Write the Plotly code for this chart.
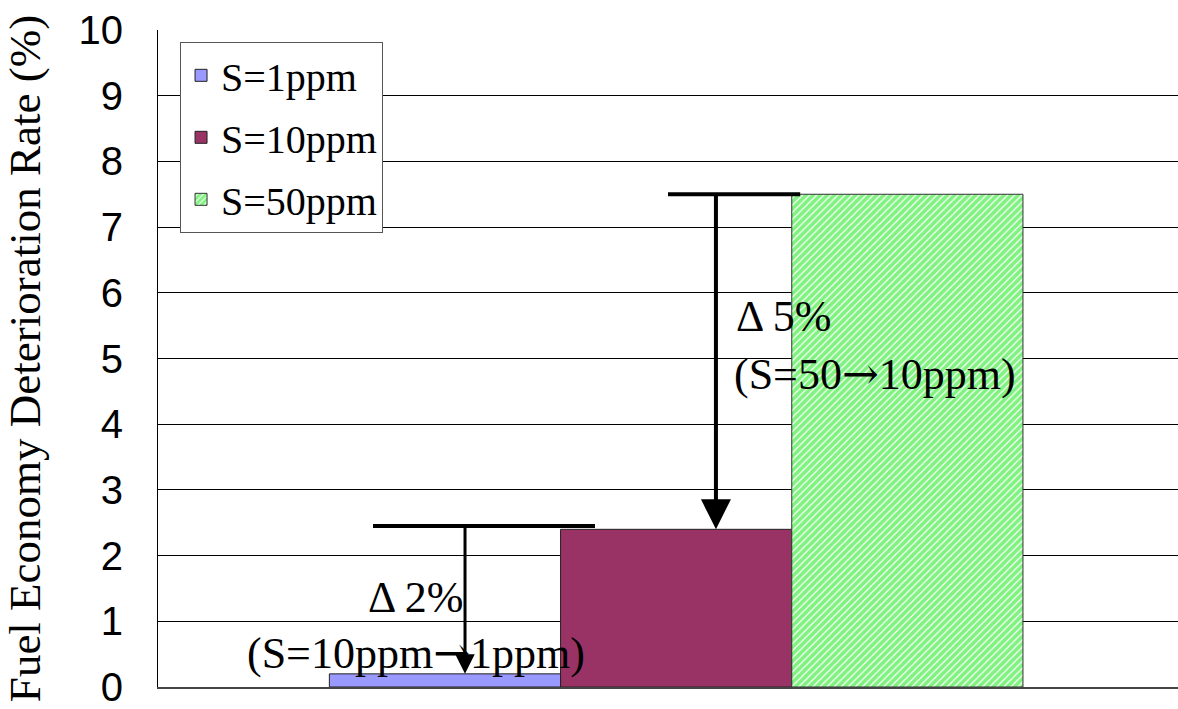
import plotly.graph_objects as go

# ---- data ----
categories = ["Fuel economy"]
series_names = ["S=1ppm", "S=10ppm", "S=50ppm"]
series_values = [0.2, 2.4, 7.5]
y_ticks = [0, 1, 2, 3, 4, 5, 6, 7, 8, 9, 10]

# annotation data (reductions)
ARROW = "<span style=\"font-family:'DejaVu Serif'\">→</span>"
delta_big = {"label": "Δ 5%", "sub": "(S=50" + ARROW + "10ppm)", "from": 7.5, "to": 2.4}
delta_small = {"label": "Δ 2%", "sub": "(S=10ppm" + ARROW + "1ppm)", "from": 2.45, "to": 0.2}

SERIF = "Liberation Serif"
SANS = "Liberation Sans"

fig = go.Figure()
fig.add_trace(go.Bar(
    x=categories, y=[series_values[0]], name=series_names[0], legendgroup="a",
    marker=dict(color="#9999ff", line=dict(color="#222", width=1)),
))
fig.add_trace(go.Bar(
    x=categories, y=[series_values[1]], name=series_names[1], legendgroup="b",
    marker=dict(color="#993366", line=dict(color="#222", width=1)),
))
fig.add_trace(go.Bar(
    x=categories, y=[series_values[2]], name=series_names[2], legendgroup="c",
    marker=dict(color="white", line=dict(color="#333", width=1),
                pattern=dict(shape="/", fgcolor="#00e600", bgcolor="white",
                             size=5, solidity=0.75, fillmode="overlay")),
))

# T-bar horizontal lines
fig.add_shape(type="line", xref="x", yref="y", x0=-0.008, x1=0.1216,
              y0=delta_big["from"], y1=delta_big["from"], line=dict(color="black", width=4))
fig.add_shape(type="line", xref="x", yref="y", x0=-0.2972, x1=-0.0796,
              y0=delta_small["from"], y1=delta_small["from"], line=dict(color="black", width=4))

# arrows
fig.add_annotation(x=0.039, y=delta_big["to"], ax=0.039, ay=delta_big["from"],
                   xref="x", yref="y", axref="x", ayref="y", text="",
                   showarrow=True, arrowhead=2, arrowwidth=4, arrowsize=1.5,
                   arrowcolor="black", standoff=0)
fig.add_annotation(x=-0.207, y=delta_small["to"], ax=-0.207, ay=delta_small["from"],
                   xref="x", yref="y", axref="x", ayref="y", text="",
                   showarrow=True, arrowhead=2, arrowwidth=3, arrowsize=1.3,
                   arrowcolor="black", standoff=0)

# texts
fig.add_annotation(x=0.057, y=5.64, xref="x", yref="y", text=delta_big["label"],
                   showarrow=False, xanchor="left", font=dict(family=SERIF, size=44, color="black"))
fig.add_annotation(x=0.055, y=4.77, xref="x", yref="y", text=delta_big["sub"],
                   showarrow=False, xanchor="left", font=dict(family=SERIF, size=44, color="black"))
fig.add_annotation(x=-0.255, y=1.36, xref="x", yref="y", text=delta_small["label"],
                   showarrow=False, xanchor="center", font=dict(family=SERIF, size=44, color="black"))
fig.add_annotation(x=-0.255, y=0.53, xref="x", yref="y", text=delta_small["sub"],
                   showarrow=False, xanchor="center", font=dict(family=SERIF, size=44, color="black"))

fig.update_layout(
    width=1178, height=709,
    margin=dict(l=158, r=0, t=30, b=19),
    paper_bgcolor="white", plot_bgcolor="white",
    barmode="group", bargap=0.32, bargroupgap=0,
    showlegend=True,
    legend=dict(x=0.0216, y=0.982, xanchor="left", yanchor="top",
                bgcolor="white", bordercolor="#555", borderwidth=1,
                font=dict(family=SERIF, size=40, color="black"),
                itemwidth=30, tracegroupgap=7),
    xaxis=dict(range=[-0.508, 0.492], showticklabels=False, showgrid=False,
               showline=True, linecolor="#444", linewidth=2, zeroline=False, ticks=""),
    yaxis=dict(range=[0, 10], tickvals=y_ticks, showgrid=True, gridcolor="black",
               gridwidth=1, showline=True, linecolor="black", linewidth=1,
               zeroline=False, ticks="", ticklabelstandoff=26,
               ticklabeloverflow="allow",
               tickfont=dict(family=SANS, size=40, color="black"),
               title=dict(text="Fuel Economy Deterioration Rate (%)",
                          font=dict(family=SERIF, size=45, color="black"),
                          standoff=30)),
)

fig.write_html("out.html", config={"displayModeBar": False},
               post_script="document.body.style.margin='0';document.body.style.overflow='hidden';")
